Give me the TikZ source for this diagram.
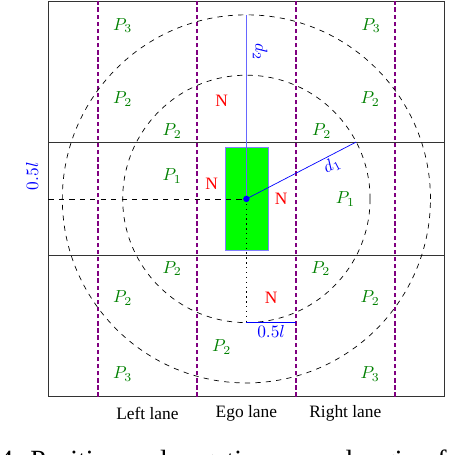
\documentclass[tikz,border=0pt]{standalone}
\usepackage{xcolor}
\usepackage{amsmath}
\usepackage{fontspec}
\setmainfont{Liberation Serif}
\usetikzlibrary{positioning, calc}

\begin{document}
\begin{tikzpicture}[
  reward/.style={text=green!50!black},
  neg/.style={text=red},
  divider/.style={draw=violet, dashed, dash pattern=on 2.5pt off 1.6pt, line width=1pt},
  ring/.style={draw=black, dashed},
  road/.style={draw=black!80},
  car/.style={rectangle, draw=blue!50, fill=green, minimum width=0.87cm, minimum height=2.1cm, inner sep=0pt}
]
  \useasboundingbox (-4.98,-5.17) rectangle (4.6,4.02);

  % road and lanes
  \draw[road] (-4,-4) rectangle (4,4);
  \draw[road] (-4,1.15) -- (4,1.15);
  \draw[road] (-4,-1.15) -- (4,-1.15);
  \draw[divider] (-3,-4) -- (-3,4);
  \draw[divider] (-1,-4) -- (-1,4);
  \draw[divider] (1,-4) -- (1,4);
  \draw[divider] (3,-4) -- (3,4);

  \node[car] (ego) at (0,0) {};
  \draw[ring] (ego.center) circle (2.5);
  \draw[ring] (ego.center) circle (3.72);

  \coordinate (leftmid) at (-4,0);
  \coordinate (d1end) at (2.22,1.15);
  \coordinate (d2end) at (0,3.72);
  \coordinate (lowmid) at (0,-2.5);
  \coordinate (lowright) at (1,-2.5);

  \draw[dashed] (leftmid) -- (ego.center);
  \draw[blue!60, thick] (d2end) -- node[sloped, above, pos=0.2, text=blue] {$d_2$} (ego.center);
  \draw[blue] (ego.center) -- node[sloped, below, pos=0.74, inner sep=1pt, text=blue] {$d_1$} (d1end);
  \draw[dotted, thick] (ego.center) -- (lowmid);
  \draw[blue] (lowmid) -- node[below, inner sep=1.5pt, text=blue] {$0.5l$} (lowright);
  \fill[blue] (ego.center) circle (0.065);

  \node[text=blue, rotate=90] (halflane) at (-4.33,0.46) {$0.5l$};

  % reward regions
  \node[reward] (p3tl) at (-2.5,3.5) {$P_3$};
  \node[reward] (p2tl) at (-2.5,2.02) {$P_2$};
  \node[reward] (p2tc) at (-1.5,1.37) {$P_2$};
  \node[reward] (p1l) at (-1.5,0.46) {$P_1$};
  \node[reward] (p3tr) at (2.52,3.5) {$P_3$};
  \node[reward] (p2tr) at (2.5,2.02) {$P_2$};
  \node[reward] (p2tcr) at (1.52,1.37) {$P_2$};
  \node[reward] (p1r) at (2.0,0) {$P_1$};
  \node[reward] (p2bc) at (-1.5,-1.41) {$P_2$};
  \node[reward] (p2bl) at (-2.5,-2.01) {$P_2$};
  \node[reward] (p2bcr) at (1.5,-1.41) {$P_2$};
  \node[reward] (p2br) at (2.5,-2.01) {$P_2$};
  \node[reward] (p2ego) at (-0.5,-3.0) {$P_2$};
  \node[reward] (p3bl) at (-2.5,-3.54) {$P_3$};
  \node[reward] (p3br) at (2.5,-3.54) {$P_3$};

  \node[neg] (nfront) at (-0.5,1.98) {N};
  \node[neg] (nleft) at (-0.7,0.3) {N};
  \node[neg] (nright) at (0.7,0) {N};
  \node[neg] (nback) at (0.5,-2.0) {N};

  % lane names
  \node (leftlane) at (-2,-4.33) {Left lane};
  \node (egolane) at (0,-4.33) {Ego lane};
  \node (rightlane) at (2,-4.33) {Right lane};

  \node[anchor=base west, inner sep=0pt, font=\fontsize{16}{19}\selectfont] (caption) at (-5.0,-5.46) {4: Positive and negative reward region for};
\end{tikzpicture}
\end{document}
